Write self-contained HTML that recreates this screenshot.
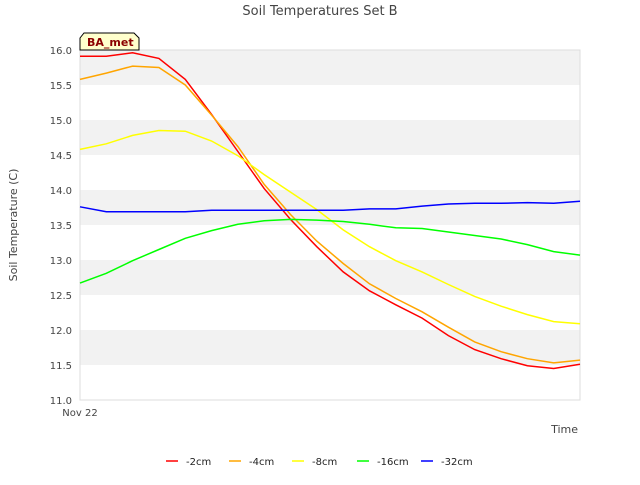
<!DOCTYPE html>
<html><head><meta charset="utf-8"><style>
body{margin:0;background:#fff;font-family:"Liberation Sans","DejaVu Sans",sans-serif}
text{font-family:"DejaVu Sans","Liberation Sans",sans-serif}
</style></head><body>
<svg id="chart" width="640" height="480" xmlns="http://www.w3.org/2000/svg">
<rect width="640" height="480" fill="#fff"/>
<text x="320" y="15" text-anchor="middle" font-size="13" fill="#444">Soil Temperatures Set B</text>
<g id="bands"></g>
<g id="yaxis"></g>
<g id="series"></g>
<text transform="translate(17,225) rotate(-90)" text-anchor="middle" font-size="11" fill="#444">Soil Temperature (C)</text>
<text x="578" y="433" text-anchor="end" font-size="11" fill="#444">Time</text>
<text x="80" y="416" text-anchor="middle" font-size="10" fill="#444">Nov 22</text>
<g>
<path d="M84,33 L134,33 L139,38 L139,50 L80,50 L80,38 Z" fill="#ffffcc" stroke="#000" stroke-width="1"/>
<text x="87" y="46" font-size="11" font-weight="bold" fill="#8b0000">BA_met</text>
</g>
<g id="legend"></g>
</svg>
<script>
const names=["-2cm","-4cm","-8cm","-16cm","-32cm"];
const colors=["#ff0000","#ffa500","#ffff00","#00ff00","#0000ff"];
const s2=[15.91,15.91,15.96,15.88,15.58,15.08,14.55,14.02,13.58,13.19,12.83,12.56,12.36,12.17,11.92,11.72,11.59,11.49,11.45,11.51];
const s4=[15.58,15.67,15.77,15.75,15.50,15.07,14.62,14.08,13.65,13.27,12.95,12.66,12.45,12.26,12.04,11.83,11.69,11.59,11.53,11.57];
const s8=[14.58,14.66,14.78,14.85,14.84,14.70,14.49,14.22,13.97,13.72,13.43,13.19,12.99,12.83,12.65,12.48,12.34,12.22,12.12,12.09];
const s16=[12.67,12.81,12.99,13.15,13.31,13.42,13.51,13.56,13.58,13.57,13.55,13.51,13.46,13.45,13.40,13.35,13.30,13.22,13.12,13.07];
const s32=[13.76,13.69,13.69,13.69,13.69,13.71,13.71,13.71,13.71,13.71,13.71,13.73,13.73,13.77,13.80,13.81,13.81,13.82,13.81,13.84];
const yTicks=["11.0","11.5","12.0","12.5","13.0","13.5","14.0","14.5","15.0","15.5","16.0"];
const series=[s2,s4,s8,s16,s32];
const NS="http://www.w3.org/2000/svg";
const x0=80,x1=580,yMin=11,yMax=16,py0=400,py1=50;
const X=i=>x0+i*(x1-x0)/(s2.length-1);
const Y=v=>py0-(v-yMin)/(yMax-yMin)*(py0-py1);
function mk(t,a,p){const e=document.createElementNS(NS,t);for(const k in a)e.setAttribute(k,a[k]);p.appendChild(e);return e;}
const bands=document.getElementById('bands');
for(let i=0;i<yTicks.length-1;i++){const lo=+yTicks[i],hi=+yTicks[i+1];
 const r=mk('rect',{x:x0,y:Y(hi),width:x1-x0,height:Y(lo)-Y(hi),fill:(i%2===1)?'#f2f2f2':'#fff'},bands);
 
 }
mk('rect',{x:x0,y:py1,width:x1-x0,height:py0-py1,fill:'none',stroke:'#ddd'},bands);
const ya=document.getElementById('yaxis');
yTicks.forEach(t=>{const e=mk('text',{x:x0-8,y:Y(+t)+4,'text-anchor':'end','font-size':10,fill:'#444'},ya);e.textContent=t;
 
 });
const sg=document.getElementById('series');
series.forEach((s,k)=>{const d=s.map((v,i)=>(i?'L':'M')+X(i).toFixed(1)+','+Y(v).toFixed(1)).join(' ');
 const p=mk('path',{d:d,fill:'none',stroke:colors[k],'stroke-width':1.5},sg);
 
 });
const lg=document.getElementById('legend');
const lx=[166,229,292,357,421];
names.forEach((n,k)=>{const g=mk('g',{},lg);
 
 
 mk('line',{x1:lx[k],x2:lx[k]+12,y1:461,y2:461,stroke:colors[k],'stroke-width':1.5},g);
 const t=mk('text',{x:lx[k]+20,y:465,'font-size':10,fill:'#222'},g);t.textContent=n;});
</script>
</body></html>
